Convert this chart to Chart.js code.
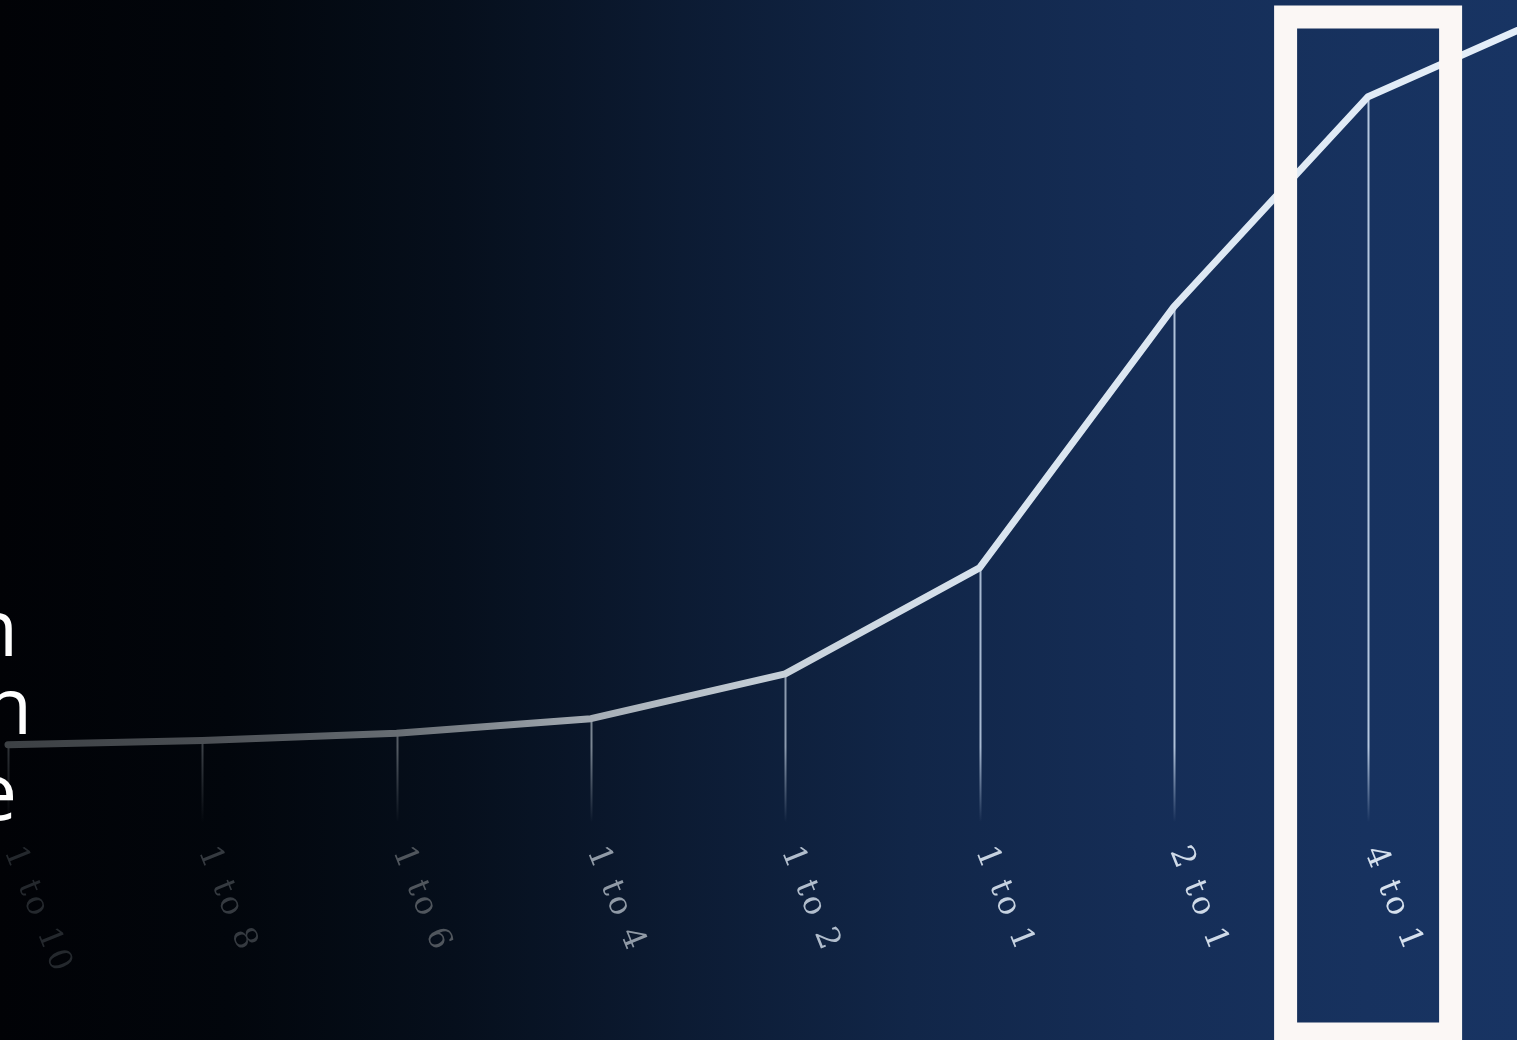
<!DOCTYPE html>
<html>
<head>
<meta charset="utf-8">
<style>
  html, body { margin: 0; padding: 0; background: #010206; overflow: hidden; }
  #wrap { width: 1517px; height: 1040px; }
</style>
<script src="https://cdn.jsdelivr.net/npm/chart.js@4"></script>
</head>
<body>
<div id="wrap"><canvas id="c" width="1517" height="1040"></canvas></div>
<script>
// ---- Data ----
const categories = ['1 to 10', '1 to 8', '1 to 6', '1 to 4', '1 to 2', '1 to 1', '2 to 1', '4 to 1', '8 to 1'];
const values = [28.4, 28.8, 29.5, 30.9, 35.2, 45.4, 70.5, 90.7, 99.0];
const sideText = ['n', 'n', 'e'];
const highlightIndex = 7;

// ---- Helpers ----
function hexToRgb(h) {
  const n = parseInt(h.slice(1), 16);
  return [(n >> 16) & 255, (n >> 8) & 255, n & 255];
}
function colorAt(stops, x) {
  if (x <= stops[0][0]) return stops[0][1];
  for (let i = 1; i < stops.length; i++) {
    if (x <= stops[i][0]) {
      const [x0, c0] = stops[i - 1], [x1, c1] = stops[i];
      const t = (x - x0) / (x1 - x0);
      const a = hexToRgb(c0), b = hexToRgb(c1);
      const r = a.map((v, k) => Math.round(v + (b[k] - v) * t));
      return `rgb(${r[0]},${r[1]},${r[2]})`;
    }
  }
  return stops[stops.length - 1][1];
}
const labelStops = [[0, '#23272c'], [200, '#353a40'], [400, '#50565d'], [600, '#939daa'], [800, '#b3c0cf'], [1000, '#c8d4e2'], [1200, '#d0dbe9'], [1517, '#dbe6f2']];
const lineStops = [[0, '#3c4044'], [200, '#4a4e53'], [400, '#686e74'], [600, '#a7afb7'], [800, '#c9d3dc'], [1000, '#d9e4ef'], [1517, '#e4eef9']];
const dropStops = [[0, '#2d3136'], [200, '#3b4046'], [400, '#555c64'], [600, '#7d8894'], [800, '#8d9db1'], [1000, '#aabcd4'], [1517, '#b8cbe4']];
const bgStops = [[0, '#010206'], [0.15, '#02060c'], [0.3, '#060f1c'], [0.45, '#0c1b33'], [0.6, '#112648'], [0.75, '#152d56'], [0.9, '#17325f'], [1, '#183463']];

function hGradient(chart, stops) {
  const c = chart.ctx, w = chart.width;
  const g = c.createLinearGradient(0, 0, w, 0);
  stops.forEach(([x, col]) => g.addColorStop(Math.min(1, x / w), col));
  return g;
}

// ---- Plugins ----
const backgroundPlugin = {
  id: 'bg',
  beforeDraw(chart) {
    const c = chart.ctx;
    const g = c.createLinearGradient(0, 0, chart.width, 0);
    bgStops.forEach(([t, col]) => g.addColorStop(t, col));
    c.save();
    c.fillStyle = g;
    c.fillRect(0, 0, chart.width, chart.height);
    c.restore();
  }
};

const dropLinePlugin = {
  id: 'drops',
  beforeDatasetsDraw(chart) {
    const c = chart.ctx;
    const xs = chart.scales.x, ys = chart.scales.y;
    const bottom = 822;
    c.save();
    values.forEach((v, i) => {
      const x = Math.round(xs.getPixelForValue(i)) + 0.5;
      const y = ys.getPixelForValue(v);
      if (x > chart.width) return;
      const col = colorAt(dropStops, x);
      const g = c.createLinearGradient(0, y, 0, bottom);
      const fadeStart = Math.max(0, Math.min(1, (bottom - 75 - y) / (bottom - y)));
      g.addColorStop(0, col);
      g.addColorStop(fadeStart, col);
      g.addColorStop(1, col.replace('rgb', 'rgba').replace(')', ',0)'));
      c.strokeStyle = g;
      c.lineWidth = 2;
      c.beginPath();
      c.moveTo(x, y);
      c.lineTo(x, bottom);
      c.stroke();
    });
    c.restore();
  }
};

const overlayPlugin = {
  id: 'overlay',
  afterDatasetsDraw(chart) {
    const c = chart.ctx;
    const xs = chart.scales.x;
    // rotated category labels
    c.save();
    c.font = '32px "DejaVu Serif", "Liberation Serif", serif';
    c.textAlign = 'left';
    c.textBaseline = 'middle';
    try { c.letterSpacing = '3px'; } catch (e) {}
    categories.forEach((lab, i) => {
      const x = xs.getPixelForValue(i);
      if (x > chart.width) return;
      c.save();
      c.translate(x + 4, 848);
      c.rotate(68 * Math.PI / 180);
      c.fillStyle = colorAt(labelStops, x);
      c.fillText(lab, 0, 0);
      c.restore();
    });
    c.restore();

    // cut-off side text at the left edge
    c.save();
    c.font = '78px "Open Sans", "Noto Sans", sans-serif';
    c.fillStyle = '#ffffff';
    c.textAlign = 'right';
    c.textBaseline = 'alphabetic';
    const sx = [18, 32, 17], sy = [656, 734, 820];
    sideText.forEach((t, i) => c.fillText(t, sx[i], sy[i]));
    c.restore();

    // highlight rectangle around one category
    const cx = xs.getPixelForValue(highlightIndex);
    c.save();
    c.strokeStyle = '#fbf7f5';
    c.lineWidth = 23;
    c.strokeRect(cx - 82.5, 17, 165, 1017);
    c.restore();
  }
};

// ---- Chart ----
const firstOffset = 8, step = 194.3;
const xMin = -firstOffset / step;
const xMax = xMin + 1517 / step;

const points = values.map((v, i) => ({ x: i, y: v }));

new Chart(document.getElementById('c'), {
  type: 'line',
  data: {
    datasets: [
      {
        data: points,
        borderColor: (ctx) => hGradient(ctx.chart, lineStops),
        borderWidth: 7,
        pointRadius: 0,
        tension: 0,
        borderJoinStyle: 'round',
        borderCapStyle: 'round',
        fill: false
      },
      {
        data: points,
        borderColor: (ctx) => {
          const c = ctx.chart.ctx, w = ctx.chart.width;
          const g = c.createLinearGradient(0, 0, w, 0);
          g.addColorStop(0, 'rgba(255,255,255,0.03)');
          g.addColorStop(0.4, 'rgba(255,255,255,0.15)');
          g.addColorStop(0.7, 'rgba(255,255,255,0.55)');
          g.addColorStop(1, 'rgba(255,255,255,0.7)');
          return g;
        },
        borderWidth: 2.5,
        pointRadius: 0,
        tension: 0,
        borderJoinStyle: 'round',
        fill: false
      }
    ]
  },
  options: {
    responsive: false,
    animation: false,
    devicePixelRatio: 1,
    layout: { padding: 0 },
    plugins: { legend: { display: false }, tooltip: { enabled: false } },
    scales: {
      x: { type: 'linear', min: xMin, max: xMax, display: false },
      y: { type: 'linear', min: 0, max: 100, display: false }
    }
  },
  plugins: [backgroundPlugin, dropLinePlugin, overlayPlugin]
});
</script>
</body>
</html>
